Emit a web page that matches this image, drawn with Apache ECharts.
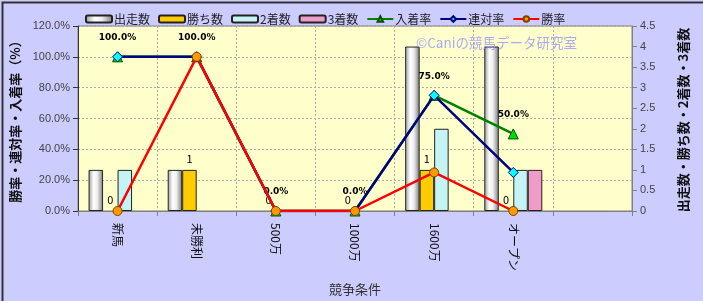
<!DOCTYPE html>
<html><head><meta charset="utf-8">
<script src="https://cdn.jsdelivr.net/npm/echarts@6/dist/echarts.min.js"></script>
<style>html,body{margin:0;padding:0;background:#CCCCFF}#c{width:703px;height:301px}</style>
</head><body><div id="c"></div>
<script>
const categories = ['新馬','未勝利','500万','1000万','1600万','オープン',''];
const starts  = [1,1,0,0,4,4,null];
const wins    = [0,1,0,0,1,0,null];
const seconds = [1,0,0,0,2,1,null];
const thirds  = [0,0,0,0,0,1,null];
const placeRate = [100,100,0,0,75,50,null];
const rentaiRate = [100,100,0,0,75,25,null];
const winRate = [0,100,0,0,25,0,null];
const leftTicks = [0,20,40,60,80,100,120];
const rightTicks = [0,0.5,1,1.5,2,2.5,3,3.5,4,4.5];

const FONT = '"Noto Sans CJK JP", "DejaVu Sans", sans-serif';
const chart = echarts.init(document.getElementById('c'));
const barBorder = {borderColor:'#222', borderWidth:1};
// hide the border of zero-height bars (Excel draws nothing there)
const barData = arr => arr.map(v => v === 0 ? {value:v, itemStyle:{borderWidth:0, opacity:0}} : v);
const whiteGrad = new echarts.graphic.LinearGradient(0,0,1,0,[
  {offset:0,color:'#9a9a9a'},{offset:0.35,color:'#ffffff'},{offset:0.6,color:'#eeeeee'},{offset:1,color:'#7a7a7a'}]);
const pctLabel = {show:true, position:'top', distance:9, fontSize:9, fontWeight:'bold', color:'#000', fontFamily:'Verdana, "DejaVu Sans", sans-serif',
  formatter: p => p.value==null ? '' : Number(p.value).toFixed(1)+'%'};
chart.setOption({
  backgroundColor:'#CCCCFF',
  animation:false,
  textStyle:{fontFamily:FONT},
  legend:{
    top:8, left:80, itemWidth:26, itemHeight:7, itemGap:8,
    textStyle:{fontSize:12, color:'#222', fontFamily:FONT, padding:[0,0,0,-3]},
    data:['出走数','勝ち数','2着数','3着数','入着率','連対率','勝率']
  },
  grid:{left:78, right:71, top:26, bottom:88, show:true, backgroundColor:'#FFFFCC', borderColor:'#808080', borderWidth:1},
  xAxis:{
    type:'category', data:categories,
    name:'競争条件', nameLocation:'middle', nameGap:72,
    nameTextStyle:{fontSize:13, color:'#333', fontFamily:FONT},
    axisLine:{lineStyle:{color:'#808080'}},
    axisTick:{show:true, lineStyle:{color:'#808080'}},
    axisLabel:{rotate:-90, fontSize:12, color:'#111', margin:12, fontFamily:FONT, interval:0},
    splitLine:{show:true, lineStyle:{color:'#aaaaaa', type:[2,2]}}
  },
  yAxis:[
    {type:'value', min:0, max:120, interval:20, position:'left',
     name:'勝率・連対率・入着率（%）', nameLocation:'middle', nameGap:50, nameRotate:90,
     nameTextStyle:{fontSize:13, fontWeight:'bold', color:'#111', fontFamily:FONT},
     axisLine:{show:true, lineStyle:{color:'#333'}},
     axisTick:{show:true, lineStyle:{color:'#333'}},
     axisLabel:{fontSize:11, color:'#444', formatter:v=>v.toFixed(1)+'%', fontFamily:'Arial, "Liberation Sans", sans-serif'},
     splitLine:{show:true, lineStyle:{color:'#aaaaaa', type:[2,2]}}},
    {type:'value', min:0, max:4.5, interval:0.5, position:'right',
     axisLine:{show:true, lineStyle:{color:'#808080'}},
     axisTick:{show:true, lineStyle:{color:'#808080'}},
     axisLabel:{fontSize:11, color:'#444', fontFamily:'Arial, "Liberation Sans", sans-serif'},
     splitLine:{show:false}}
  ],
  series:[
    {name:'出走数', type:'bar', yAxisIndex:1, data:barData(starts), barWidth:14.5, barGap:'0%',
     itemStyle:Object.assign({color:whiteGrad}, barBorder)},
    {name:'勝ち数', type:'bar', yAxisIndex:1, data:wins.map(v => v === 0 ? {value:v, itemStyle:{borderWidth:0, color:'rgba(0,0,0,0)'}} : v), barWidth:14.5, barGap:'0%',
     itemStyle:Object.assign({color:'#FFCC00'}, barBorder),
     label:{show:true, position:'top', distance:6, fontSize:11, color:'#000', formatter:p=>p.value==null?'':String(p.value)}},
    {name:'2着数', type:'bar', yAxisIndex:1, data:barData(seconds), barWidth:14.5, barGap:'0%',
     itemStyle:Object.assign({color:'#C4F4F4'}, barBorder)},
    {name:'3着数', type:'bar', yAxisIndex:1, data:barData(thirds), barWidth:14.5, barGap:'0%',
     itemStyle:Object.assign({color:'#F09CC8'}, barBorder)},
    {name:'入着率', type:'line', yAxisIndex:0, data:placeRate, symbol:'triangle', symbolSize:10,
     lineStyle:{color:'#008000', width:2.5}, itemStyle:{color:'#00DD00', borderColor:'#005000', borderWidth:1},
     label:pctLabel, z:3},
    {name:'連対率', type:'line', yAxisIndex:0, data:rentaiRate, symbol:'diamond', symbolSize:10,
     lineStyle:{color:'#000080', width:2.5}, itemStyle:{color:'#00FFFF', borderColor:'#000080', borderWidth:1}, z:4},
    {name:'勝率', type:'line', yAxisIndex:0, data:winRate, symbol:'circle', symbolSize:9,
     lineStyle:{color:'#FF0000', width:2.5}, itemStyle:{color:'#FF9900', borderColor:'#804000', borderWidth:1}, z:5}
  ],
  graphic:[
    {type:'text', left:416, top:36, z:10, style:{text:'©Caniの競馬データ研究室', fill:'rgba(150,150,255,0.8)', fontSize:13.5, fontFamily:FONT}},
    {type:'text', x:683, y:120, rotation:Math.PI/2, z:10,
     style:{text:'出走数・勝ち数・2着数・3着数', fill:'#111', fontSize:13, fontWeight:'bold', fontFamily:FONT, align:'center', verticalAlign:'middle'}},
    {type:'rect', left:0, top:0, z:-1, shape:{x:0,y:0,width:702,height:300}, style:{fill:'none', stroke:'#333', lineWidth:2}}
  ]
});
</script></body></html>
